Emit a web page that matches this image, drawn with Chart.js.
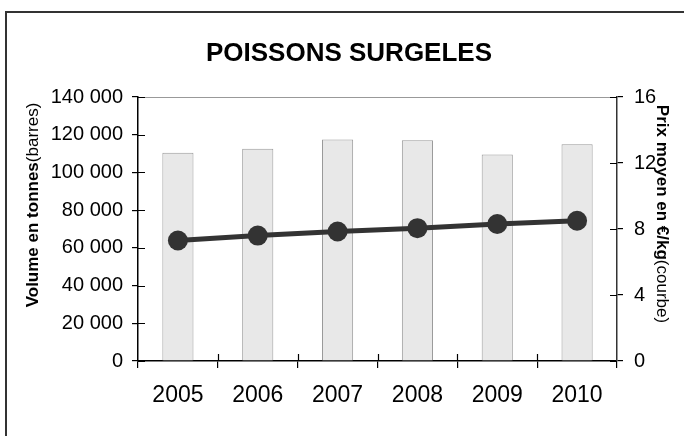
<!DOCTYPE html>
<html>
<head>
<meta charset="utf-8">
<script src="https://cdn.jsdelivr.net/npm/chart.js@4"></script>
<style>
  html, body { margin: 0; padding: 0; background: #fff; }
  canvas { display: block; }
</style>
</head>
<body>
<canvas id="poissonsChart" width="684" height="436"></canvas>
<script>
const titre = "POISSONS SURGELES";
const annees = ["2005", "2006", "2007", "2008", "2009", "2010"];
const volumes = [110500, 112500, 117500, 117000, 109500, 115000]; // tonnes (barres)
const prixMoyens = [7.3, 7.6, 7.85, 8.05, 8.3, 8.5]; // €/kg (courbe)
const volumeTicks = [0, 20000, 40000, 60000, 80000, 100000, 120000, 140000];
const prixTicks = [0, 4, 8, 12, 16];

const police = "'Liberation Sans', Arial, sans-serif";

function formatMilliers(v) {
  return String(v).replace(/\B(?=(\d{3})+(?!\d))/g, " ");
}

// draws a rotated title made of a bold part and a normal part
function titreVertical(ctx, parts, cx, cy, angle) {
  ctx.save();
  ctx.translate(cx, cy);
  ctx.rotate(angle);
  let total = 0;
  parts.forEach(p => { ctx.font = p.font; total += ctx.measureText(p.text).width; });
  let x = -total / 2;
  ctx.textBaseline = "middle";
  ctx.textAlign = "left";
  ctx.fillStyle = "#000";
  parts.forEach(p => {
    ctx.font = p.font;
    ctx.fillText(p.text, x, 0);
    x += ctx.measureText(p.text).width;
  });
  ctx.restore();
}

const decorPlugin = {
  id: "decor",
  beforeDatasetsDraw(chart) {
    const { ctx, chartArea } = chart;
    ctx.save();
    ctx.strokeStyle = "#999";
    ctx.lineWidth = 1;
    ctx.beginPath();
    ctx.moveTo(chartArea.left, chartArea.top + 0.5);
    ctx.lineTo(chartArea.right, chartArea.top + 0.5);
    ctx.stroke();
    ctx.restore();
  },
  afterDraw(chart) {
    const { ctx, chartArea, scales } = chart;
    ctx.save();

    // outer frame (only top and left are visible)
    ctx.strokeStyle = "#333";
    ctx.lineWidth = 2;
    ctx.beginPath();
    ctx.moveTo(6, 440);
    ctx.lineTo(6, 12);
    ctx.lineTo(690, 12);
    ctx.stroke();

    // inner part of the tick marks
    ctx.strokeStyle = "#000";
    ctx.lineWidth = 1.2;
    ctx.beginPath();
    volumeTicks.forEach(v => {
      const y = Math.round(scales.y.getPixelForValue(v)) + 0.5;
      ctx.moveTo(chartArea.left, y);
      ctx.lineTo(chartArea.left + 7, y);
    });
    prixTicks.forEach(v => {
      const y = Math.round(scales.y1.getPixelForValue(v)) + 0.5;
      ctx.moveTo(chartArea.right, y);
      ctx.lineTo(chartArea.right - 7, y);
    });
    for (let i = 1; i < annees.length; i++) {
      const x = (scales.x.getPixelForValue(i - 1) + scales.x.getPixelForValue(i)) / 2;
      ctx.moveTo(Math.round(x) + 0.5, chartArea.bottom);
      ctx.lineTo(Math.round(x) + 0.5, chartArea.bottom - 7);
    }
    ctx.stroke();

    // title
    ctx.fillStyle = "#000";
    ctx.font = "bold 26px " + police;
    ctx.textAlign = "center";
    ctx.textBaseline = "middle";
    ctx.fillText(titre, 349, 54);

    // axis titles
    titreVertical(ctx, [
      { text: "Volume en tonnes", font: "bold 17px " + police },
      { text: "(barres)", font: "17px " + police }
    ], 33, 205, -Math.PI / 2);
    titreVertical(ctx, [
      { text: "Prix moyen en €/kg", font: "bold 17px " + police },
      { text: "(courbe)", font: "17px " + police }
    ], 662, 214, Math.PI / 2);

    ctx.restore();
  }
};

const ctx = document.getElementById("poissonsChart").getContext("2d");
new Chart(ctx, {
  type: "bar",
  data: {
    labels: annees,
    datasets: [
      {
        type: "line",
        label: "Prix moyen",
        data: prixMoyens,
        yAxisID: "y1",
        borderColor: "#333",
        backgroundColor: "#333",
        borderWidth: 5,
        pointRadius: 10,
        pointBackgroundColor: "#333",
        pointBorderWidth: 0,
        tension: 0,
        order: 0
      },
      {
        type: "bar",
        label: "Volume",
        data: volumes,
        yAxisID: "y",
        backgroundColor: "#e8e8e8",
        borderColor: "#999",
        borderWidth: 1,
        barPercentage: 0.39,
        categoryPercentage: 1,
        order: 1
      }
    ]
  },
  options: {
    responsive: false,
    animation: false,
    layout: { padding: { top: 97, left: 0, right: 0, bottom: 0 } },
    plugins: {
      legend: { display: false },
      title: { display: false },
      tooltip: { enabled: false }
    },
    scales: {
      x: {
        offset: true,
        grid: {
          offset: true,
          drawOnChartArea: false,
          tickLength: 7,
          color: "#000",
          lineWidth: 1.2
        },
        border: { color: "#000", width: 1.5 },
        ticks: {
          color: "#000",
          padding: 14,
          font: { family: police, size: 23 }
        },
        afterFit(scale) { scale.height = 75; }
      },
      y: {
        position: "left",
        min: 0,
        max: 140000,
        grid: { drawOnChartArea: false, tickLength: 6, color: "#000", lineWidth: 1.2 },
        border: { color: "#000", width: 1.5 },
        ticks: {
          stepSize: 20000,
          color: "#000",
          padding: 9,
          font: { family: police, size: 20 },
          callback: v => formatMilliers(v)
        },
        afterFit(scale) { scale.width = 138; }
      },
      y1: {
        position: "right",
        min: 0,
        max: 16,
        grid: { drawOnChartArea: false, tickLength: 6, color: "#000", lineWidth: 1.2 },
        border: { color: "#333", width: 1.5 },
        ticks: {
          stepSize: 4,
          color: "#000",
          padding: 11,
          font: { family: police, size: 20 }
        },
        afterFit(scale) { scale.width = 67; }
      }
    }
  },
  plugins: [decorPlugin]
});
</script>
</body>
</html>
